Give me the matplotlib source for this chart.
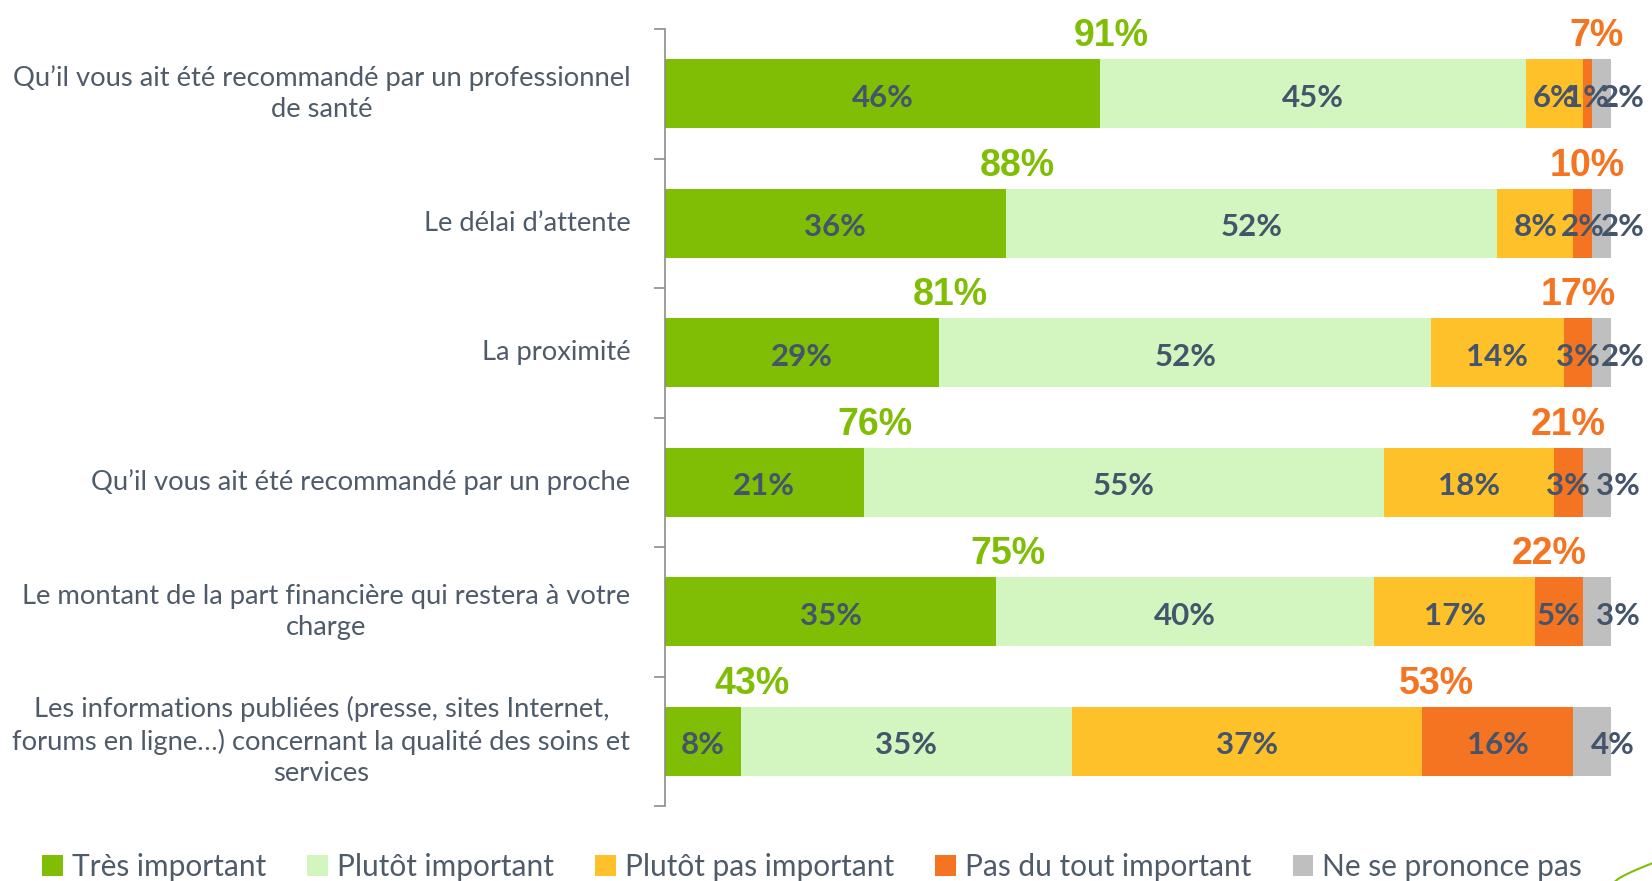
import numpy as np
import matplotlib
matplotlib.use('Agg')
import matplotlib.pyplot as plt
from matplotlib.patches import Patch

# --- Data ---
categories = [
    "Qu\u2019il vous ait été recommandé par un professionnel\nde santé",
    "Le délai d\u2019attente",
    "La proximité",
    "Qu\u2019il vous ait été recommandé par un proche",
    "Le montant de la part financière qui restera à votre\ncharge",
    "Les informations publiées (presse, sites Internet,\nforums en ligne\u2026) concernant la qualité des soins et\nservices",
]
series_names = ["Très important", "Plutôt important", "Plutôt pas important",
                "Pas du tout important", "Ne se prononce pas"]
tres_important = [46, 36, 29, 21, 35, 8]
plutot_important = [45, 52, 52, 55, 40, 35]
plutot_pas = [6, 8, 14, 18, 17, 37]
pas_du_tout = [1, 2, 3, 3, 5, 16]
nsp = [2, 2, 2, 3, 3, 4]
total_important = [91, 88, 81, 76, 75, 43]
total_pas_important = [7, 10, 17, 21, 22, 53]

# --- Colors ---
colors = ['#80BE06', '#D3F5C0', '#FFC12A', '#F57422', '#BFBFBF']
TEXT_DARK = '#44546A'
LABEL_GREY = '#4F5B69'

fig = plt.figure(figsize=(16.52, 8.81), dpi=100)
ax = fig.add_axes([665 / 1652, 1 - 806 / 881, (1611 - 665) / 1652, (806 - 29) / 881])

series = [tres_important, plutot_important, plutot_pas, pas_du_tout, nsp]
y = np.arange(len(categories))
left = np.zeros(len(categories))
bar_h = 0.53
for i, vals in enumerate(series):
    vals = np.array(vals, dtype=float)
    ax.barh(y, vals, left=left, height=bar_h, color=colors[i], edgecolor='none', zorder=2)
    for yi, (l, v) in enumerate(zip(left, vals)):
        cx = l + v / 2
        if i == 4:
            cx += 2.2  # grey labels sit right of the segment
        ax.text(cx, yi + 0.03, f'{int(v)}%', ha='center', va='center',
                fontsize=22.5, fontweight='bold', color=TEXT_DARK,
                family='Lato', zorder=4)
    left += vals

# --- Totals above bars ---
for yi in range(len(categories)):
    ax.text(tres_important[yi] + 1.2, yi - bar_h / 2 - 0.04, f'{total_important[yi]}%',
            ha='center', va='bottom', fontsize=27, fontweight='bold',
            color=colors[0], family='Liberation Sans')
    start_pas = tres_important[yi] + plutot_important[yi] + plutot_pas[yi]
    ax.text(start_pas + 1.5, yi - bar_h / 2 - 0.04, f'{total_pas_important[yi]}%',
            ha='center', va='bottom', fontsize=27, fontweight='bold',
            color=colors[3], family='Liberation Sans')

ax.set_xlim(0, 100)
ax.set_ylim(len(categories) - 0.5, -0.5)
for s in ['top', 'right', 'bottom']:
    ax.spines[s].set_visible(False)
ax.spines['left'].set_color('#8C8C8C')
ax.spines['left'].set_linewidth(1.2)
ax.set_xticks([])
ax.set_yticks(np.arange(-0.5, len(categories), 1.0))
ax.set_yticklabels([])
ax.tick_params(axis='y', length=8, width=1.2, color='#8C8C8C', direction='out')

# category labels (centred lines, right edge near axis)
for yi, cat in enumerate(categories):
    ax.annotate(cat, xy=(0, yi), xycoords=('axes fraction', 'data'),
                xytext=(-25, 0), textcoords='offset points',
                ha='right', va='center', multialignment='center',
                fontsize=19.7, color=LABEL_GREY, family='Lato', linespacing=1.32)

# --- Legend ---
handles = [Patch(facecolor=c, edgecolor='none') for c in colors]
leg = fig.legend(handles, series_names, loc='lower left', bbox_to_anchor=(0.018, -0.014),
                 ncol=5, frameon=False, fontsize=21.5, handlelength=0.7, handleheight=0.7,
                 handletextpad=0.3, columnspacing=1.38, borderaxespad=0)
for t in leg.get_texts():
    t.set_color(LABEL_GREY)
    t.set_family('Lato')

# decorative green swoosh in the bottom right corner
xs = np.linspace(0.978, 1.0, 20)
fig.add_artist(plt.Line2D(xs, 0.0 + 0.02 * ((xs - 0.978) / 0.022) ** 0.8,
                          transform=fig.transFigure, color='#80BE06', lw=1.5))

fig.savefig('out.png', dpi=100)
